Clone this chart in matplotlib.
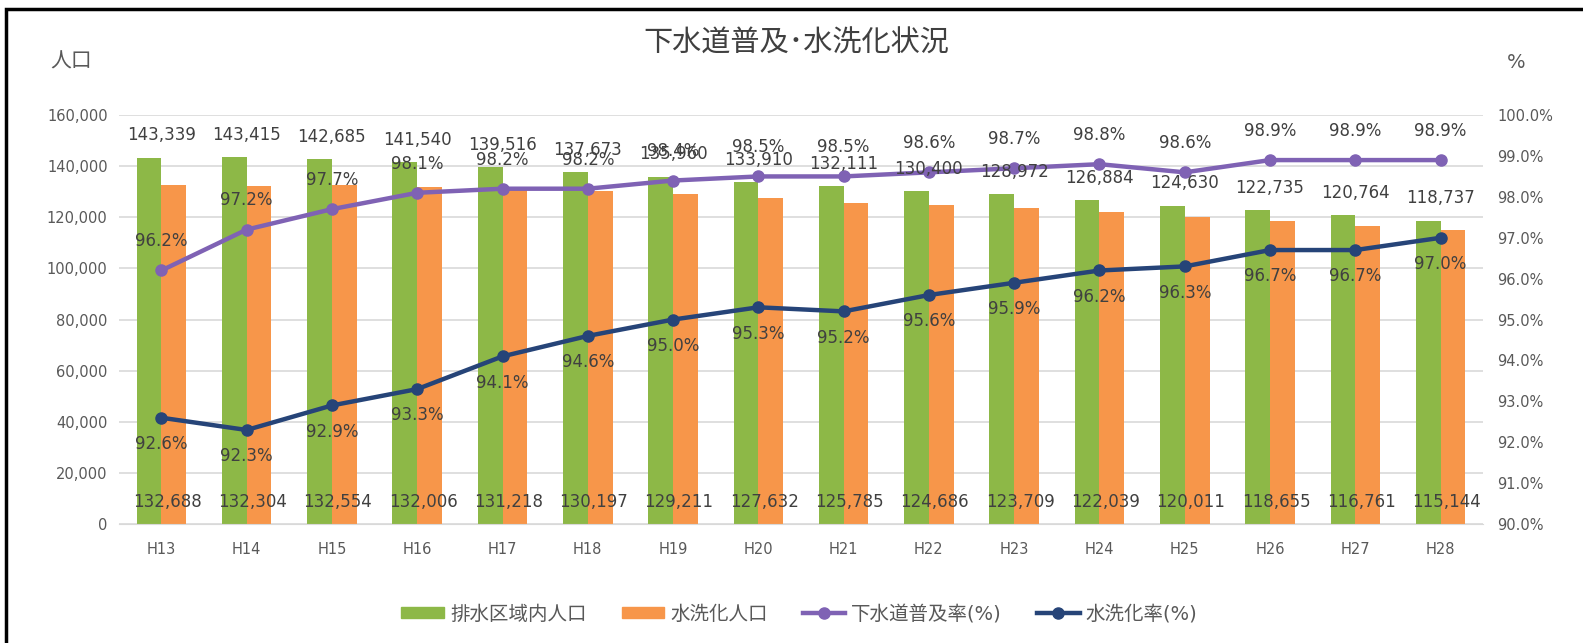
import matplotlib.pyplot as plt
from matplotlib.lines import Line2D
from matplotlib.patches import Patch, Rectangle
import numpy as np

plt.rcParams['font.family'] = ['DejaVu Sans', 'Noto Sans CJK JP']

years = ['H13', 'H14', 'H15', 'H16', 'H17', 'H18', 'H19', 'H20',
         'H21', 'H22', 'H23', 'H24', 'H25', 'H26', 'H27', 'H28']
area_pop = [143339, 143415, 142685, 141540, 139516, 137673, 135960, 133910,
            132111, 130400, 128972, 126884, 124630, 122735, 120764, 118737]
flush_pop = [132688, 132304, 132554, 132006, 131218, 130197, 129211, 127632,
             125785, 124686, 123709, 122039, 120011, 118655, 116761, 115144]
sewer_rate = [96.2, 97.2, 97.7, 98.1, 98.2, 98.2, 98.4, 98.5,
              98.5, 98.6, 98.7, 98.8, 98.6, 98.9, 98.9, 98.9]
flush_rate = [92.6, 92.3, 92.9, 93.3, 94.1, 94.6, 95.0, 95.3,
              95.2, 95.6, 95.9, 96.2, 96.3, 96.7, 96.7, 97.0]

green = '#8DB847'
orange = '#F7964A'
purple = '#7F62B4'
navy = '#264478'
txt = '#404040'
tick_c = '#595959'

fig = plt.figure(figsize=(15.83, 6.43), dpi=100)
ax = fig.add_axes([0.075, 0.185, 0.862, 0.636])
ax2 = ax.twinx()

x = np.arange(len(years))
w = 0.29
ax.bar(x - w / 2, area_pop, w, color=green, zorder=2)
ax.bar(x + w / 2, flush_pop, w, color=orange, zorder=2)

ax.set_ylim(0, 160000)
ax.set_yticks(np.arange(0, 160001, 20000))
ax.set_yticklabels([f'{v:,}' for v in range(0, 160001, 20000)])
ax.set_xlim(-0.5, len(years) - 0.5)
ax.set_xticks(x)
ax.set_xticklabels(years)
ax.grid(axis='y', color='#D9D9D9', linewidth=1.2, zorder=0)
ax.set_axisbelow(True)
for s in ['top', 'right', 'left']:
    ax.spines[s].set_visible(False)
ax.spines['bottom'].set_color('#D9D9D9')
ax.tick_params(axis='both', length=0, colors=tick_c, labelsize=10.5)
ax.tick_params(axis='x', pad=13)
ax.tick_params(axis='y', pad=8)

ax2.plot(x, sewer_rate, color=purple, lw=3.2, marker='o', ms=8, zorder=3)
ax2.plot(x, flush_rate, color=navy, lw=3.2, marker='o', ms=8, zorder=3)
ax2.set_ylim(90, 100)
ax2.set_yticks(np.arange(90, 100.1, 1))
ax2.set_yticklabels([f'{v:.1f}%' for v in np.arange(90, 100.1, 1)])
for s in ax2.spines.values():
    s.set_visible(False)
ax2.tick_params(axis='y', length=0, colors=tick_c, labelsize=10.5, pad=10)

# data labels, all drawn on the top axes so they sit over the lines
for i in range(len(years)):
    ax2.annotate(f'{area_pop[i]:,}', (x[i], area_pop[i]), xycoords=ax.transData,
                 xytext=(0, 16), textcoords='offset points',
                 ha='center', va='center', fontsize=12, color=txt)
    ax2.annotate(f'{flush_pop[i]:,}', (x[i] + 0.07, 0), xycoords=ax.transData,
                 xytext=(0, 16), textcoords='offset points',
                 ha='center', va='center', fontsize=12, color=txt)
    ax2.annotate(f'{sewer_rate[i]:.1f}%', (x[i], sewer_rate[i]),
                 xytext=(0, 21), textcoords='offset points',
                 ha='center', va='center', fontsize=12, color=txt)
    ax2.annotate(f'{flush_rate[i]:.1f}%', (x[i], flush_rate[i]),
                 xytext=(0, -19), textcoords='offset points',
                 ha='center', va='center', fontsize=12, color=txt)

fig.text(0.503, 0.932, '下水道普及･水洗化状況', ha='center', va='center',
         fontsize=21, color=txt)
fig.text(0.045, 0.905, '人口', ha='center', va='center', fontsize=15, color=tick_c)
fig.text(0.958, 0.903, '%', ha='center', va='center', fontsize=14, color=tick_c)

handles = [
    Patch(color=green),
    Patch(color=orange),
    Line2D([], [], color=purple, lw=3.2, marker='o', ms=8),
    Line2D([], [], color=navy, lw=3.2, marker='o', ms=8),
]
labels = ['排水区域内人口', '水洗化人口', '下水道普及率(%)', '水洗化率(%)']
fig.legend(handles, labels, loc='center', bbox_to_anchor=(0.505, 0.045), ncol=4,
           frameon=False, fontsize=14, handlelength=2.2, handleheight=0.5,
           columnspacing=1.8, handletextpad=0.3, labelcolor=tick_c)

# black frame around the chart
fig.patches.append(Rectangle((0.004, -0.05), 1.2, 1.036, transform=fig.transFigure,
                             fill=False, edgecolor='black', lw=2.5))

fig.savefig('out.png', dpi=100)
